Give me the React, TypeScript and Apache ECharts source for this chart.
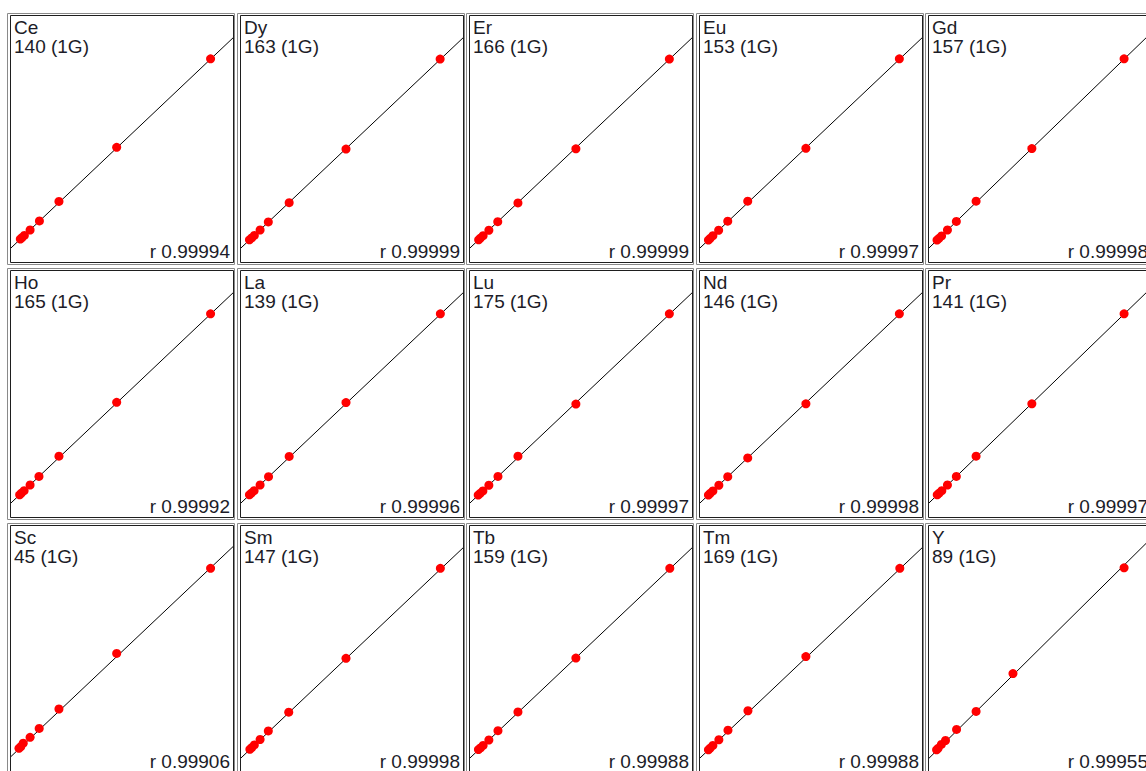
import React, { useEffect, useRef } from "react";
import * as echarts from "echarts";

// ---- data (relative units: concentration 0–100, signal 0–100) ----
const elements = ["Ce", "Dy", "Er", "Eu", "Gd", "Ho", "La", "Lu", "Nd", "Pr", "Sc", "Sm", "Tb", "Tm", "Y"];
const isotopes = ["140 (1G)", "163 (1G)", "166 (1G)", "153 (1G)", "157 (1G)", "165 (1G)", "139 (1G)", "175 (1G)", "146 (1G)", "141 (1G)", "45 (1G)", "147 (1G)", "159 (1G)", "169 (1G)", "89 (1G)"];
const correlations = ["0.99994", "0.99999", "0.99999", "0.99997", "0.99998", "0.99992", "0.99996", "0.99997", "0.99998", "0.99997", "0.99906", "0.99998", "0.99988", "0.99988", "0.99955"];

// calibration fit (intercept, slope) per element
const fitIntercept = [5.3, 5.3, 5.3, 5.3, 5.3, 5.3, 5.3, 5.3, 5.3, 5.3, 5.9, 5.3, 5.3, 5.3, 5.2];
const fitSlope = [0.854, 0.854, 0.854, 0.854, 0.854, 0.854, 0.854, 0.854, 0.854, 0.854, 0.853, 0.854, 0.854, 0.854, 0.873];

// standards: concentration (x) and signal (y)
const concCe = [89.9, 47.6, 21.6, 12.8, 8.6, 6.0, 4.9, 4.2];
const signalCe = [82.2, 46.2, 24.2, 16.3, 12.6, 10.4, 9.5, 8.9];
const concDy = [89.7, 47.3, 21.7, 12.3, 8.6, 6.0, 4.8, 3.8];
const signalDy = [82.1, 45.5, 23.7, 15.9, 12.6, 10.4, 9.4, 8.6];
const concEr = [89.8, 47.7, 21.6, 12.5, 8.5, 5.9, 4.7, 3.9];
const signalEr = [82.1, 45.6, 23.6, 16.0, 12.5, 10.3, 9.3, 8.6];
const concEu = [89.8, 47.7, 21.5, 12.5, 8.4, 5.8, 4.6, 3.8];
const signalEu = [82.2, 45.8, 24.3, 16.2, 12.5, 10.3, 9.2, 8.5];
const concGd = [89.9, 47.4, 21.7, 12.6, 8.5, 5.8, 4.6, 3.7];
const signalGd = [82.2, 45.7, 24.3, 16.1, 12.6, 10.2, 9.2, 8.5];
const concHo = [89.9, 47.6, 21.6, 12.6, 8.6, 5.9, 4.7, 3.9];
const signalHo = [82.2, 46.2, 24.3, 16.1, 12.6, 10.3, 9.3, 8.6];
const concLa = [89.8, 47.3, 21.7, 12.4, 8.6, 5.9, 4.7, 3.8];
const signalLa = [82.2, 46.1, 24.2, 16.0, 12.6, 10.3, 9.3, 8.6];
const concLu = [89.8, 47.7, 21.6, 12.6, 8.5, 5.8, 4.6, 3.7];
const signalLu = [82.2, 45.5, 24.3, 16.1, 12.5, 10.2, 9.2, 8.5];
const concNd = [89.8, 47.7, 21.5, 12.5, 8.5, 5.8, 4.6, 3.8];
const signalNd = [82.2, 45.6, 23.6, 16.0, 12.5, 10.2, 9.2, 8.5];
const concPr = [89.9, 47.4, 21.7, 12.6, 8.5, 5.9, 4.7, 3.8];
const signalPr = [82.2, 45.6, 24.3, 16.1, 12.6, 10.3, 9.3, 8.6];
const concSc = [89.9, 47.6, 21.6, 12.7, 8.6, 5.5, 4.4, 3.6];
const signalSc = [82.4, 47.8, 25.2, 17.3, 13.7, 11.3, 9.9, 9.2];
const concSm = [89.8, 47.3, 21.5, 12.3, 8.6, 6.0, 4.8, 4.0];
const signalSm = [82.4, 45.8, 23.9, 16.3, 12.8, 10.6, 9.5, 8.8];
const concTb = [90.0, 47.7, 21.6, 12.6, 8.5, 5.9, 4.7, 3.8];
const signalTb = [82.4, 45.9, 24.0, 16.4, 12.6, 10.4, 9.4, 8.7];
const concTm = [90.0, 47.7, 21.6, 12.6, 8.5, 5.8, 4.6, 3.8];
const signalTm = [82.4, 46.5, 24.5, 16.6, 12.7, 10.4, 9.3, 8.6];
const concY = [89.9, 38.7, 21.7, 12.7, 7.6, 5.7, 4.2, 3.5];
const signalY = [82.6, 39.6, 24.2, 16.9, 12.4, 10.8, 9.2, 8.6];

const concs = [concCe, concDy, concEr, concEu, concGd, concHo, concLa, concLu, concNd, concPr, concSc, concSm, concTb, concTm, concY];
const signals = [signalCe, signalDy, signalEr, signalEu, signalGd, signalHo, signalLa, signalLu, signalNd, signalPr, signalSc, signalSm, signalTb, signalTm, signalY];

const COLS = 5;
const FONT = '19px "Liberation Sans", Arial, sans-serif';

export default function App() {
  const ref = useRef<HTMLDivElement>(null);

  useEffect(() => {
    if (!ref.current) return;
    const chart = echarts.init(ref.current, undefined, { renderer: "svg" });

    const grids: any[] = [];
    const xAxes: any[] = [];
    const yAxes: any[] = [];
    const series: any[] = [];
    const graphics: any[] = [];

    elements.forEach((el, i) => {
      const c = i % COLS;
      const r = Math.floor(i / COLS);
      const x0 = Math.round(7 + 229.5 * c);
      const y0 = 13 + 255 * r;

      grids.push({ left: x0 + 4, top: y0 + 2, width: 222, height: 246, containLabel: false });
      xAxes.push({ gridIndex: i, type: "value", min: 0, max: 100, show: false });
      yAxes.push({ gridIndex: i, type: "value", min: 0, max: 100, show: false });

      series.push({
        type: "scatter",
        xAxisIndex: i,
        yAxisIndex: i,
        data: concs[i].map((x, k) => [x, signals[i][k]]),
        symbol: "circle",
        symbolSize: 9,
        itemStyle: { color: "#ff0000", opacity: 1 },
        clip: false,
        z: 4,
      });
      series.push({
        type: "line",
        xAxisIndex: i,
        yAxisIndex: i,
        data: [
          [0, fitIntercept[i]],
          [100, fitIntercept[i] + fitSlope[i] * 100],
        ],
        symbol: "none",
        lineStyle: { color: "#000000", width: 1 },
        clip: true,
        z: 3,
      });

      // panel borders
      graphics.push({
        type: "rect",
        shape: { x: x0 + 0.5, y: y0 + 0.5, width: 227, height: 251 },
        style: { fill: "none", stroke: "#8a8a8a", lineWidth: 1 },
        z: 10,
      });
      graphics.push({
        type: "rect",
        shape: { x: x0 + 3.5, y: y0 + 2.5, width: 223, height: 247 },
        style: { fill: "none", stroke: "#1e1e1e", lineWidth: 1 },
        z: 10,
      });
      // labels
      graphics.push({
        type: "text",
        x: x0 + 7,
        y: y0 + 14.6,
        style: { text: el, font: FONT, fill: "#1c1c28", align: "left", verticalAlign: "middle" },
        z: 11,
      });
      graphics.push({
        type: "text",
        x: x0 + 7,
        y: y0 + 33.7,
        style: { text: isotopes[i], font: FONT, fill: "#1c1c28", align: "left", verticalAlign: "middle" },
        z: 11,
      });
      graphics.push({
        type: "text",
        x: x0 + 223,
        y: y0 + 238.7,
        style: { text: "r " + correlations[i], font: FONT, fill: "#1c1c28", align: "right", verticalAlign: "middle" },
        z: 11,
      });
    });

    chart.setOption({
      animation: false,
      backgroundColor: "#ffffff",
      grid: grids,
      xAxis: xAxes,
      yAxis: yAxes,
      series,
      graphic: graphics,
    });

    return () => chart.dispose();
  }, []);

  return (
    <div
      ref={ref}
      style={{ position: "absolute", left: 0, top: 0, width: 1146, height: 771, background: "#fff" }}
    />
  );
}
